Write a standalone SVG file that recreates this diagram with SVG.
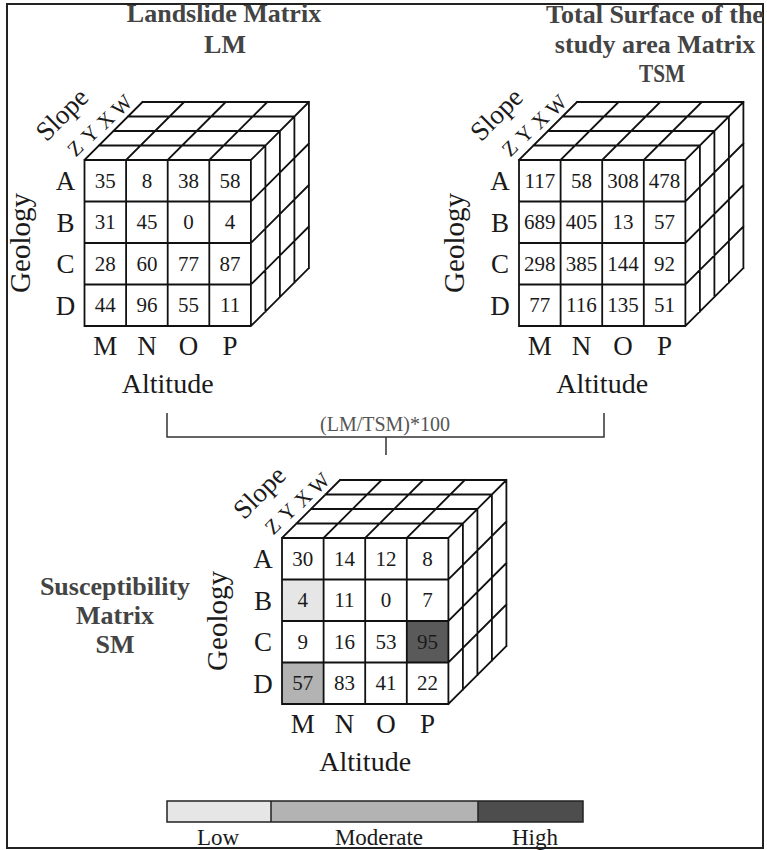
<svg xmlns="http://www.w3.org/2000/svg" xmlns:xlink="http://www.w3.org/1999/xlink" width="767" height="850" viewBox="0 0 767 850">
<style>
text{font-family:"Liberation Serif","Times New Roman",serif;fill:#1a1a1a}
.title{font-weight:bold;font-size:26px;fill:#444;text-anchor:middle}
.num{font-size:21px;text-anchor:middle}
.row{font-size:27px;text-anchor:middle}
.col{font-size:27px;text-anchor:middle}
.axis{font-size:28px;text-anchor:middle}
.geo{font-size:29px;text-anchor:middle}
.slope{font-size:27px;text-anchor:middle}
.lay{font-size:21px;text-anchor:middle}
.grid{fill:none;stroke:#111;stroke-width:1.8;stroke-linecap:square}
.conn{fill:none;stroke:#333;stroke-width:1.5}
.leg{font-size:23px;text-anchor:middle}
</style>
<defs>
<path id="cube" class="grid" d="M0,0H166.4V166H0Z M41.6,0V166 M83.2,0V166 M124.8,0V166 M0,41.5H166.4 M0,83H166.4 M0,124.5H166.4 M14.5,-14.5H180.9 M29,-29H195.4 M43.5,-43.5H209.9 M58,-58H224.4 M0,0L58,-58 M41.6,0l58,-58 M83.2,0l58,-58 M124.8,0l58,-58 M166.4,0l58,-58 M180.9,-14.5V151.5 M195.4,-29V137 M209.9,-43.5V122.5 M224.4,-58V108 M166.4,41.5l58,-58 M166.4,83l58,-58 M166.4,124.5l58,-58 M166.4,166l58,-58"/>
<g id="axes">
<text class="row" x="-19" y="30">A</text>
<text class="row" x="-19" y="71.5">B</text>
<text class="row" x="-19" y="113">C</text>
<text class="row" x="-19" y="154.5">D</text>
<text class="geo" transform="translate(-65,83) rotate(-90)" dy="0.35em">Geology</text>
<text class="col" x="20.8" y="195">M</text>
<text class="col" x="62.4" y="195">N</text>
<text class="col" x="104" y="195">O</text>
<text class="col" x="145.6" y="195">P</text>
<text class="axis" x="83.2" y="233">Altitude</text>
<text class="slope" transform="translate(-23,-46) rotate(-45)" dy="0.35em">Slope</text>
<text class="lay" transform="translate(-9.5,-12) rotate(-45)" dy="0.35em">Z</text>
<text class="lay" transform="translate(5.5,-26) rotate(-45)" dy="0.35em">Y</text>
<text class="lay" transform="translate(21,-40) rotate(-45)" dy="0.35em">X</text>
<text class="lay" transform="translate(37,-55) rotate(-45)" dy="0.35em">W</text>
</g>
</defs>
<rect x="0" y="0" width="767" height="850" fill="#fff"/>
<rect x="7" y="4" width="756" height="844" fill="none" stroke="#222" stroke-width="2"/>

<g id="lm-title">
<text class="title" x="224" y="22">Landslide Matrix</text>
<text class="title" x="225" y="53">LM</text>
</g>
<g id="tsm-title">
<text class="title" x="655" y="23">Total Surface of the</text>
<text class="title" x="655" y="53">study area Matrix</text>
<text class="title" x="662" y="82" textLength="46" lengthAdjust="spacingAndGlyphs">TSM</text>
</g>
<g id="sm-title">
<text class="title" x="115" y="595">Susceptibility</text>
<text class="title" x="115" y="624">Matrix</text>
<text class="title" x="115" y="653">SM</text>
</g>

<g id="lm" transform="translate(84.5,160)">
<use xlink:href="#cube" href="#cube"/>
<use xlink:href="#axes" href="#axes"/>
<text class="num" x="20.8" y="27.75">35</text><text class="num" x="62.4" y="27.75">8</text><text class="num" x="104" y="27.75">38</text><text class="num" x="145.6" y="27.75">58</text>
<text class="num" x="20.8" y="69.25">31</text><text class="num" x="62.4" y="69.25">45</text><text class="num" x="104" y="69.25">0</text><text class="num" x="145.6" y="69.25">4</text>
<text class="num" x="20.8" y="110.75">28</text><text class="num" x="62.4" y="110.75">60</text><text class="num" x="104" y="110.75">77</text><text class="num" x="145.6" y="110.75">87</text>
<text class="num" x="20.8" y="152.25">44</text><text class="num" x="62.4" y="152.25">96</text><text class="num" x="104" y="152.25">55</text><text class="num" x="145.6" y="152.25">11</text>
</g>

<g id="tsm" transform="translate(519,160)">
<use xlink:href="#cube" href="#cube"/>
<use xlink:href="#axes" href="#axes"/>
<text class="num" x="20.8" y="27.75">117</text><text class="num" x="62.4" y="27.75">58</text><text class="num" x="104" y="27.75">308</text><text class="num" x="145.6" y="27.75">478</text>
<text class="num" x="20.8" y="69.25">689</text><text class="num" x="62.4" y="69.25">405</text><text class="num" x="104" y="69.25">13</text><text class="num" x="145.6" y="69.25">57</text>
<text class="num" x="20.8" y="110.75">298</text><text class="num" x="62.4" y="110.75">385</text><text class="num" x="104" y="110.75">144</text><text class="num" x="145.6" y="110.75">92</text>
<text class="num" x="20.8" y="152.25">77</text><text class="num" x="62.4" y="152.25">116</text><text class="num" x="104" y="152.25">135</text><text class="num" x="145.6" y="152.25">51</text>
</g>

<g id="sm" transform="translate(282,538)">
<rect x="0" y="41.5" width="41.6" height="41.5" fill="#e6e6e6"/>
<rect x="0" y="124.5" width="41.6" height="41.5" fill="#b3b3b3"/>
<rect x="124.8" y="83" width="41.6" height="41.5" fill="#5a5a5a"/>
<use xlink:href="#cube" href="#cube"/>
<use xlink:href="#axes" href="#axes"/>
<text class="num" x="20.8" y="27.75">30</text><text class="num" x="62.4" y="27.75">14</text><text class="num" x="104" y="27.75">12</text><text class="num" x="145.6" y="27.75">8</text>
<text class="num" x="20.8" y="69.25">4</text><text class="num" x="62.4" y="69.25">11</text><text class="num" x="104" y="69.25">0</text><text class="num" x="145.6" y="69.25">7</text>
<text class="num" x="20.8" y="110.75">9</text><text class="num" x="62.4" y="110.75">16</text><text class="num" x="104" y="110.75">53</text><text class="num" x="145.6" y="110.75">95</text>
<text class="num" x="20.8" y="152.25">57</text><text class="num" x="62.4" y="152.25">83</text><text class="num" x="104" y="152.25">41</text><text class="num" x="145.6" y="152.25">22</text>
</g>

<g id="connectors">
<path class="conn" d="M167,413V437H604V413 M386,437V455"/>
<text x="385" y="431" font-size="20" text-anchor="middle" style="fill:#555">(LM/TSM)*100</text>
</g>

<g id="legend">
<rect x="167" y="801" width="104" height="21" fill="#e6e6e6"/>
<rect x="271" y="801" width="207" height="21" fill="#b3b3b3"/>
<rect x="478" y="801" width="105" height="21" fill="#4d4d4d"/>
<path d="M167,801H583V822H167Z M271,801V822 M478,801V822" fill="none" stroke="#222" stroke-width="1.5"/>
<text class="leg" x="218" y="845">Low</text>
<text class="leg" x="379" y="845">Moderate</text>
<text class="leg" x="535" y="845">High</text>
</g>
</svg>
